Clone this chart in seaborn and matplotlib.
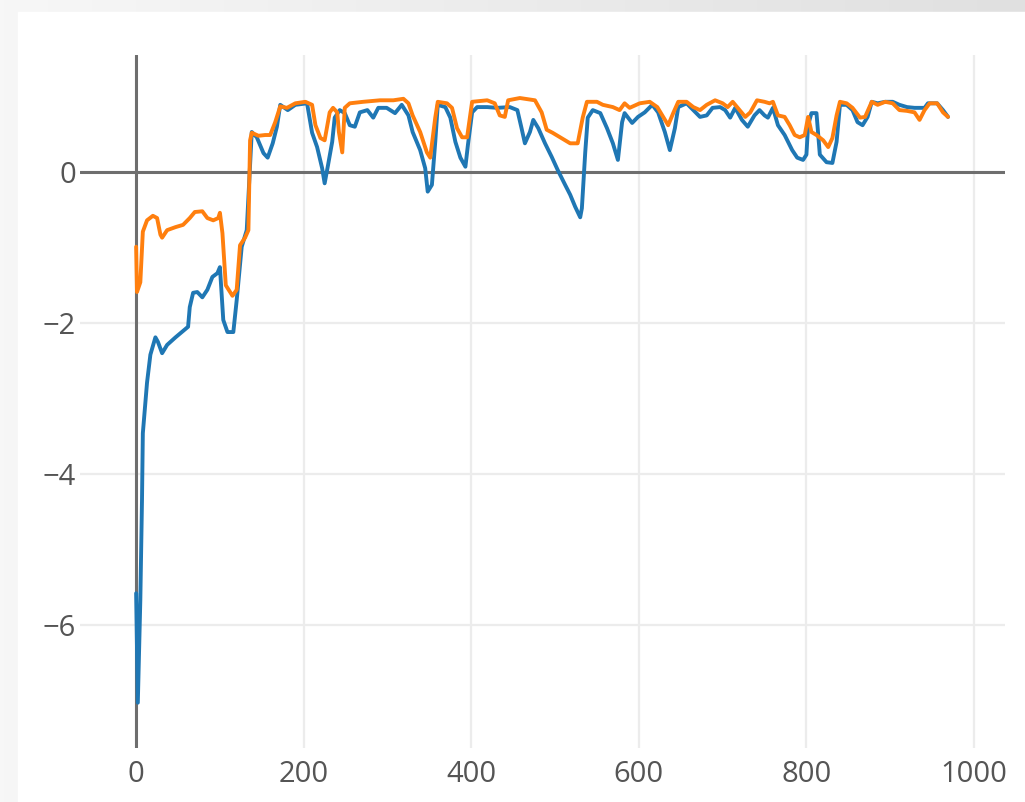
import numpy as np
import pandas as pd
import seaborn as sns
import matplotlib.pyplot as plt
from matplotlib.patches import Rectangle

# blue series
blue_x = [0, 2, 5, 7, 8, 13, 17, 23, 26, 31, 37, 47, 62, 64, 68, 73, 79, 85, 91, 97,
          100, 104, 109, 116, 120, 126, 132, 138, 144, 152, 157, 163, 168, 172, 181, 190,
          204, 210, 216, 222, 225, 229, 234, 237, 243, 249, 255, 261, 267, 276, 283, 289,
          299, 309, 317, 325, 330, 339, 345, 348, 353, 357, 360, 369, 375, 381, 387, 393,
          396, 401, 407, 419, 431, 446, 455, 460, 464, 470, 474, 480, 488, 496, 503, 512,
          518, 524, 530, 532, 536, 539, 545, 554, 562, 569, 575, 580, 583, 592, 599, 607,
          616, 623, 631, 637, 643, 647, 657, 665, 673, 681, 688, 697, 703, 709, 715, 723,
          730, 738, 744, 750, 754, 760, 766, 774, 783, 789, 796, 800, 802, 806, 812, 816,
          824, 831, 836, 840, 848, 855, 861, 867, 873, 878, 885, 894, 903, 911, 920, 929,
          935, 941, 945, 956, 963, 969]
blue_y = [-5.58, -7.03, -5.67, -4.34, -3.46, -2.79, -2.42, -2.19, -2.25, -2.40, -2.29, -2.19,
          -2.05, -1.79, -1.60, -1.59, -1.66, -1.56, -1.39, -1.34, -1.26, -1.96, -2.12, -2.12,
          -1.70, -0.99, -0.77, 0.53, 0.46, 0.25, 0.19, 0.38, 0.60, 0.89, 0.82, 0.89,
          0.91, 0.52, 0.33, 0.05, -0.15, 0.09, 0.40, 0.72, 0.82, 0.78, 0.62, 0.60, 0.79, 0.82,
          0.72, 0.85, 0.85, 0.78, 0.89, 0.75, 0.53, 0.29, 0.05, -0.26, -0.17, 0.40, 0.89,
          0.86, 0.72, 0.40, 0.19, 0.07, 0.36, 0.79, 0.86, 0.86, 0.85, 0.86, 0.82, 0.58, 0.38,
          0.53, 0.69, 0.58, 0.38, 0.20, 0.03, -0.17, -0.30, -0.46, -0.60, -0.48, 0.26, 0.72,
          0.82, 0.78, 0.58, 0.38, 0.16, 0.66, 0.78, 0.65, 0.73, 0.79, 0.89, 0.79, 0.53, 0.29,
          0.58, 0.86, 0.91, 0.82, 0.73, 0.75, 0.85, 0.86, 0.82, 0.72, 0.85, 0.69, 0.60, 0.75,
          0.82, 0.75, 0.72, 0.85, 0.62, 0.49, 0.29, 0.19, 0.16, 0.23, 0.62, 0.78, 0.78, 0.23,
          0.13, 0.12, 0.40, 0.89, 0.89, 0.82, 0.66, 0.62, 0.73, 0.93, 0.91, 0.93, 0.93, 0.89,
          0.86, 0.85, 0.85, 0.85, 0.91, 0.91, 0.82, 0.73]

# orange series
orange_x = [0, 1, 5, 8, 13, 20, 25, 29, 31, 37, 47, 56, 64, 70, 79, 85, 92, 98, 100, 103,
            107, 115, 120, 124, 130, 134, 136, 138, 146, 154, 160, 166, 172, 180, 190, 202,
            210, 214, 220, 225, 231, 235, 240, 242, 246, 249, 255, 271, 291, 307, 319, 325,
            330, 339, 347, 351, 357, 360, 371, 377, 383, 389, 395, 401, 419, 428, 434, 440,
            444, 458, 476, 484, 490, 497, 506, 518, 527, 533, 538, 550, 557, 569, 577, 583,
            589, 601, 613, 622, 629, 635, 641, 647, 657, 665, 673, 681, 691, 700, 706, 712,
            718, 727, 733, 741, 750, 756, 760, 766, 774, 780, 786, 792, 798, 802, 806, 812,
            820, 826, 831, 836, 840, 848, 855, 864, 870, 878, 885, 894, 903, 911, 920, 929,
            935, 941, 947, 956, 963, 969]
orange_y = [-0.99, -1.59, -1.46, -0.79, -0.64, -0.58, -0.61, -0.83, -0.87, -0.77, -0.73, -0.70,
            -0.61, -0.53, -0.52, -0.61, -0.64, -0.61, -0.54, -0.81, -1.50, -1.64, -1.56, -0.97,
            -0.87, -0.77, 0.42, 0.52, 0.48, 0.49, 0.49, 0.66, 0.87, 0.85, 0.91, 0.93,
            0.89, 0.62, 0.45, 0.42, 0.79, 0.85, 0.79, 0.53, 0.26, 0.85, 0.91, 0.93, 0.95, 0.95,
            0.97, 0.91, 0.75, 0.53, 0.26, 0.19, 0.72, 0.93, 0.91, 0.85, 0.58, 0.46, 0.46, 0.93,
            0.95, 0.91, 0.75, 0.73, 0.95, 0.98, 0.95, 0.79, 0.56, 0.52, 0.46, 0.38, 0.38, 0.72,
            0.93, 0.93, 0.89, 0.86, 0.82, 0.91, 0.85, 0.91, 0.93, 0.86, 0.73, 0.62, 0.78, 0.93,
            0.93, 0.86, 0.82, 0.89, 0.95, 0.91, 0.86, 0.93, 0.85, 0.73, 0.79, 0.95, 0.93, 0.91,
            0.93, 0.75, 0.73, 0.62, 0.49, 0.46, 0.49, 0.73, 0.53, 0.49, 0.42, 0.33, 0.45, 0.75,
            0.93, 0.91, 0.85, 0.72, 0.73, 0.93, 0.89, 0.93, 0.91, 0.82, 0.81, 0.79, 0.69, 0.82,
            0.91, 0.91, 0.79, 0.73]

x_ticks = [0, 200, 400, 600, 800, 1000]
y_ticks = [-6, -4, -2, 0]

sns.set_style("white")
plt.rcParams['font.family'] = ['Open Sans', 'DejaVu Sans']

fig = plt.figure(figsize=(10.25, 8.02), dpi=100)

# grey screenshot frame with a light gradient, white panel on top
bg = fig.add_axes([0, 0, 1, 1], zorder=-10)
grad = np.linspace(0, 1, 256).reshape(1, -1)
bg.imshow(grad, aspect='auto', cmap=sns.blend_palette(['#f7f7f7', '#e0e0e0'], as_cmap=True),
          extent=[0, 1, 0, 1])
bg.add_patch(Rectangle((18 / 1025, 0), 1, 1 - 12 / 802, color='white'))
bg.set_xlim(0, 1)
bg.set_ylim(0, 1)
bg.axis('off')

ax = fig.add_axes([80 / 1025, 54 / 802, 925 / 1025, 693 / 802])
ax.set_facecolor('none')

df_blue = pd.DataFrame({'x': blue_x, 'y': blue_y})
df_orange = pd.DataFrame({'x': orange_x, 'y': orange_y})
sns.lineplot(data=df_blue, x='x', y='y', ax=ax, color='#1f77b4', lw=2.8,
             sort=False, estimator=None, zorder=3)
sns.lineplot(data=df_orange, x='x', y='y', ax=ax, color='#ff7f0e', lw=2.8,
             sort=False, estimator=None, zorder=4)

ax.set_xlim(-67, 1037)
ax.set_ylim(-7.63, 1.55)
ax.set_xticks(x_ticks)
ax.set_yticks(y_ticks)
ax.set_yticklabels(['\u22126', '\u22124', '\u22122', '0'])
ax.grid(True, color='#ececec', lw=1.6)
ax.axhline(0, color='#6e6e6e', lw=2.2, zorder=2)
ax.axvline(0, color='#6e6e6e', lw=2.2, zorder=2)
for s in ax.spines.values():
    s.set_visible(False)
ax.tick_params(length=0, labelsize=21, labelcolor='#555555')
ax.tick_params(axis='x', pad=9)
ax.tick_params(axis='y', pad=3)
ax.set_xlabel('')
ax.set_ylabel('')

fig.savefig('out.png', dpi=100)
